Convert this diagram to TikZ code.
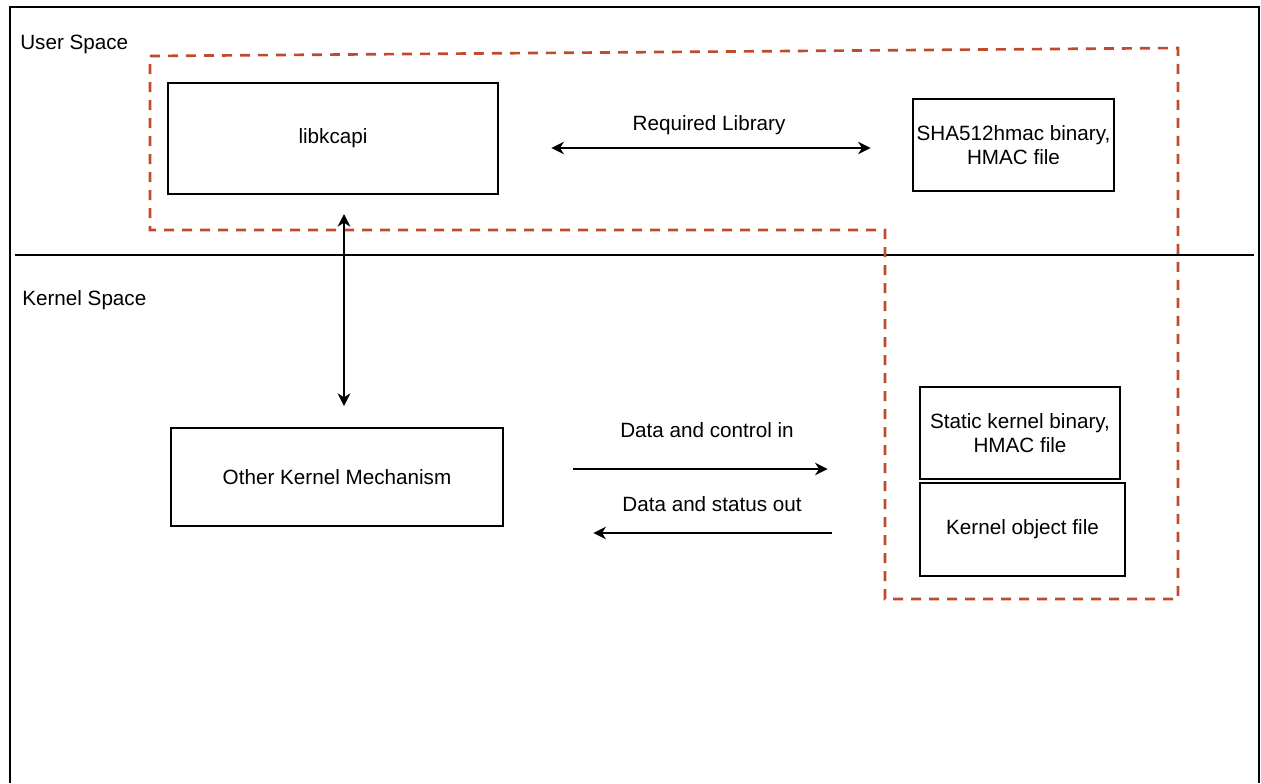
\documentclass[tikz,border=0pt]{standalone}
\usepackage{fontspec}
\setmainfont{Liberation Sans}
\usetikzlibrary{arrows.meta}
\definecolor{dashred}{RGB}{192,74,44}
\tikzset{
  box/.style={draw=black, line width=2pt, inner sep=0pt, align=center, font=\fontsize{15.5}{18.5}\selectfont},
  lbl/.style={inner sep=0pt, font=\fontsize{15.5}{18.5}\selectfont},
  tip/.tip={Stealth[length=9.5pt,width=9.5pt,inset=3pt]},
  conn/.style={line width=0.9pt, -tip},
  dconn/.style={line width=0.9pt, tip-tip},
  region/.style={draw=dashred, line width=2pt, dash pattern=on 7.5pt off 6pt},
}
\begin{document}
\begin{tikzpicture}[x=0.75pt,y=-0.75pt]
\useasboundingbox (0,0) rectangle (1261,783);
% outer frame
\draw[line width=2pt] (10,783) -- (10,7) -- (1259,7) -- (1259,783);
% separator
\draw[line width=1.6pt] (15,255) -- (1254,255);
% labels of spaces
\node[lbl, anchor=west] (us) at (20,44) {User Space};
\node[lbl, anchor=west] (ks) at (22,300) {Kernel Space};
% dashed region
\draw[region] (150,56) -- (1178,48) -- (1178,599) -- (885,599) -- (885,230) -- (150,230) -- cycle;
% boxes
\node[box, minimum width=330*0.75pt, minimum height=111*0.75pt] (lib) at (333,138.5) {libkcapi};
\node[box, minimum width=201*0.75pt, minimum height=92*0.75pt] (sha) at (1013.5,145) {SHA512hmac binary,\\HMAC file};
\node[box, minimum width=332*0.75pt, minimum height=98*0.75pt] (okm) at (337,477) {Other Kernel Mechanism};
\node[box, minimum width=200*0.75pt, minimum height=92*0.75pt] (skb) at (1020,433) {Static kernel binary,\\HMAC file};
\node[box, minimum width=205*0.75pt, minimum height=93*0.75pt] (kob) at (1022.5,529.5) {Kernel object file};
% connector helpers
\coordinate (ax) at (344,0);
\coordinate (rl) at (0,148);
\coordinate (di) at (0,469);
\coordinate (do) at (0,533);
% connectors
\draw[dconn, shorten <=14pt, shorten >=15.5pt] (lib.south -| ax) -- (okm.north -| ax);
\draw[dconn, shorten <=39pt, shorten >=30.75pt] (lib.east |- rl) -- (sha.west |- rl);
\node[lbl] (rlt) at (709,125) {Required Library};
\draw[conn, shorten <=51.75pt, shorten >=68.25pt] (okm.east |- di) -- (skb.west |- di);
\node[lbl] (dit) at (707,430) {Data and control in};
\draw[conn, shorten <=65.25pt, shorten >=66.75pt] (kob.west |- do) -- (okm.east |- do);
\node[lbl] (dot) at (712,504) {Data and status out};
\end{tikzpicture}
\end{document}
